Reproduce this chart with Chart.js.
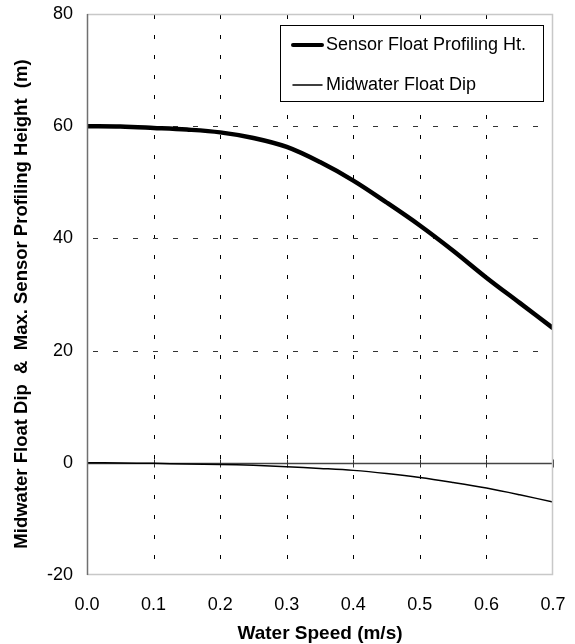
<!DOCTYPE html>
<html>
<head>
<meta charset="utf-8">
<style>
  html, body { margin: 0; padding: 0; background: #fff; }
  #wrap { width: 575px; height: 644px; }
</style>
<script src="https://cdn.jsdelivr.net/npm/chart.js@4.4.1/dist/chart.umd.min.js"></script>
</head>
<body>
<div id="wrap"><canvas id="c" width="575" height="644"></canvas></div>
<script>
const waterSpeed = [0.00, 0.05, 0.10, 0.15, 0.20, 0.25, 0.30, 0.35, 0.40, 0.45, 0.50, 0.55, 0.60, 0.65, 0.70];
const sensorHeight = [60.0, 59.95, 59.7, 59.4, 58.9, 57.9, 56.3, 53.6, 50.3, 46.4, 42.3, 37.8, 33.0, 28.5, 24.0];
const midwaterDip = [0.0, -0.03, -0.1, -0.2, -0.3, -0.45, -0.7, -1.0, -1.35, -1.9, -2.6, -3.5, -4.5, -5.7, -7.0];
const seriesNames = ['Sensor Float Profiling Ht.', 'Midwater Float Dip'];
const xTitle = 'Water Speed (m/s)';
const yTitle = 'Midwater Float Dip  &  Max. Sensor Profiling Height  (m)';
const FONT = '"Liberation Sans", Arial, sans-serif';

const decor = {
  id: 'decor',
  beforeDatasetsDraw(chart) {
    const { ctx, chartArea: a, scales: { x, y } } = chart;
    ctx.save();
    // vertical dashed grid
    ctx.strokeStyle = '#000';
    ctx.lineWidth = 1;
    ctx.setLineDash([4, 16]);
    for (const v of [0.1, 0.2, 0.3, 0.4, 0.5, 0.6]) {
      const px = Math.round(x.getPixelForValue(v)) + 0.5;
      ctx.beginPath(); ctx.moveTo(px, a.top + 1); ctx.lineTo(px, a.bottom); ctx.stroke();
    }
    // horizontal dashed grid
    ctx.strokeStyle = '#333';
    ctx.setLineDash([5, 15]);
    for (const v of [20, 40, 60]) {
      const py = Math.round(y.getPixelForValue(v)) + 0.5;
      ctx.beginPath(); ctx.moveTo(a.left + 6, py); ctx.lineTo(a.right, py); ctx.stroke();
    }
    ctx.setLineDash([]);
    // zero line with cross ticks
    const zy = Math.round(y.getPixelForValue(0)) + 0.5;
    ctx.strokeStyle = '#444';
    ctx.lineWidth = 1.5;
    ctx.beginPath(); ctx.moveTo(a.left, zy); ctx.lineTo(a.right, zy); ctx.stroke();
    ctx.lineWidth = 1;
    ctx.strokeStyle = '#333';
    for (const v of [0, 0.1, 0.2, 0.3, 0.4, 0.5, 0.6, 0.7]) {
      const px = Math.round(x.getPixelForValue(v)) + 0.5;
      ctx.beginPath(); ctx.moveTo(px, zy - 4); ctx.lineTo(px, zy + 4); ctx.stroke();
    }
    ctx.restore();
  },
  afterDraw(chart) {
    const { ctx, chartArea: a } = chart;
    ctx.save();
    // frame
    ctx.lineWidth = 1.5;
    ctx.strokeStyle = '#c8c8c8';
    ctx.beginPath();
    ctx.moveTo(a.left, a.top + 0.5); ctx.lineTo(a.right - 0.5, a.top + 0.5);
    ctx.lineTo(a.right - 0.5, a.bottom - 0.5); ctx.lineTo(a.left, a.bottom - 0.5);
    ctx.stroke();
    ctx.strokeStyle = '#707070';
    ctx.beginPath(); ctx.moveTo(a.left + 0.5, a.top); ctx.lineTo(a.left + 0.5, a.bottom); ctx.stroke();
    // legend
    ctx.fillStyle = '#fff';
    ctx.fillRect(280, 25, 264, 77);
    ctx.strokeStyle = '#000';
    ctx.lineWidth = 1;
    ctx.strokeRect(280.5, 25.5, 263, 76);
    ctx.lineCap = 'round';
    ctx.lineWidth = 4;
    ctx.beginPath(); ctx.moveTo(293, 45); ctx.lineTo(322, 45); ctx.stroke();
    ctx.lineWidth = 1.5;
    ctx.beginPath(); ctx.moveTo(293, 85); ctx.lineTo(322, 85); ctx.stroke();
    ctx.fillStyle = '#000';
    ctx.font = '18px ' + FONT;
    ctx.textBaseline = 'middle';
    ctx.textAlign = 'left';
    ctx.fillText(seriesNames[0], 326, 45);
    ctx.fillText(seriesNames[1], 326, 85);
    // y title
    ctx.font = 'bold 18.5px ' + FONT;
    ctx.translate(22, 304);
    ctx.rotate(-Math.PI / 2);
    ctx.textAlign = 'center';
    ctx.fillText(yTitle, 0, 0);
    ctx.restore();
  }
};

new Chart(document.getElementById('c'), {
  type: 'line',
  data: {
    labels: waterSpeed,
    datasets: [
      {
        label: seriesNames[0],
        data: waterSpeed.map((v, i) => ({ x: v, y: sensorHeight[i] })),
        borderColor: '#000', borderWidth: 4.5, pointRadius: 0, tension: 0.35, fill: false
      },
      {
        label: seriesNames[1],
        data: waterSpeed.map((v, i) => ({ x: v, y: midwaterDip[i] })),
        borderColor: '#000', borderWidth: 1.5, pointRadius: 0, tension: 0.35, fill: false
      }
    ]
  },
  options: {
    responsive: false,
    animation: false,
    layout: { padding: { top: 14, right: 22, left: 0, bottom: 0 } },
    plugins: { legend: { display: false }, tooltip: { enabled: false } },
    scales: {
      x: {
        type: 'linear', min: 0, max: 0.7,
        grid: { display: false, drawTicks: false },
        border: { display: false },
        ticks: { stepSize: 0.1, color: '#000', padding: 19, font: { family: FONT, size: 18 },
                 callback: v => Number(v).toFixed(1), maxRotation: 0 },
        title: { display: true, text: xTitle, color: '#000', font: { family: FONT, size: 19, weight: 'bold' }, padding: { top: 11, bottom: -1 } },
        afterFit(s) { s.height = 69; s.paddingRight = 0; s.paddingLeft = 0; }
      },
      y: {
        type: 'linear', min: -20, max: 80,
        grid: { display: false, drawTicks: false },
        border: { display: false },
        ticks: { stepSize: 20, color: '#000', padding: 14, font: { family: FONT, size: 18 } },
        afterFit(s) { s.width = 87; s.paddingTop = 0; s.paddingBottom = 0; }
      }
    }
  },
  plugins: [decor]
});
</script>
</body>
</html>
